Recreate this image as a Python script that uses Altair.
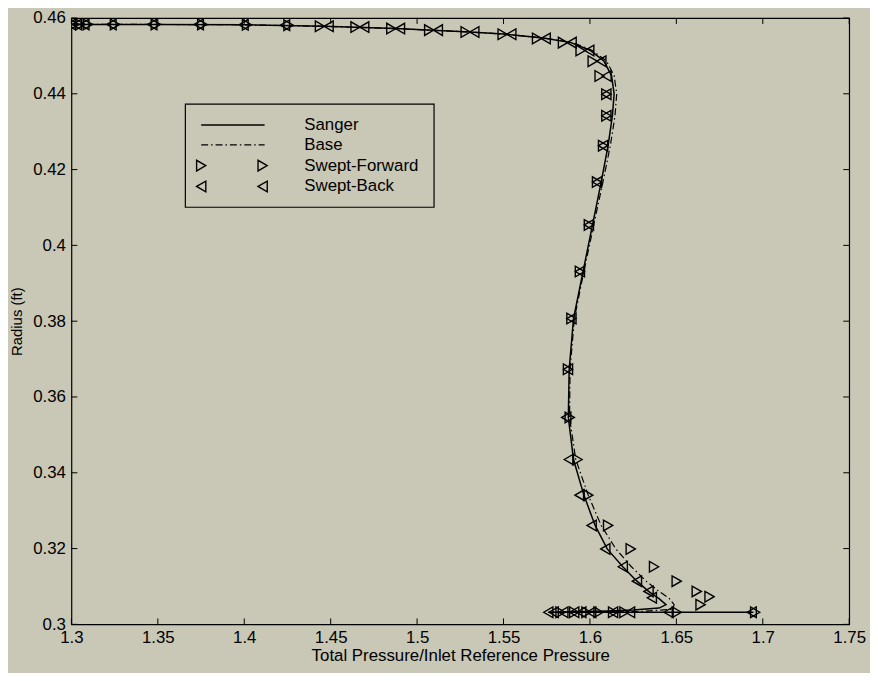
import altair as alt
import pandas as pd

# ---------------- data ----------------
x_ticks = [1.3, 1.35, 1.4, 1.45, 1.5, 1.55, 1.6, 1.65, 1.7, 1.75]
y_ticks = [0.3, 0.32, 0.34, 0.36, 0.38, 0.4, 0.42, 0.44, 0.46]

sanger_x = [1.3007, 1.3478, 1.4006, 1.4463, 1.4876, 1.5306, 1.5520, 1.5730, 1.5890, 1.6000,
            1.6080, 1.6125, 1.6140, 1.6130, 1.6105, 1.6065, 1.6015, 1.5960, 1.5905, 1.5880,
            1.5875, 1.5905, 1.5965, 1.6030, 1.6100, 1.6190, 1.6272, 1.6339, 1.6400, 1.6440,
            1.6400, 1.6250, 1.6100, 1.5900, 1.5760, 1.6946]
sanger_y = [0.4583, 0.4583, 0.4582, 0.4578, 0.4572, 0.4563, 0.4557, 0.4547, 0.4535, 0.4515,
            0.4487, 0.4448, 0.4400, 0.4342, 0.4263, 0.4167, 0.4054, 0.3931, 0.3807, 0.3673,
            0.3546, 0.3435, 0.3341, 0.3261, 0.3199, 0.3152, 0.3114, 0.3087, 0.3068, 0.3052,
            0.3043, 0.3038, 0.3035, 0.3033, 0.3032, 0.3032]

base_x = [1.3007, 1.3478, 1.4006, 1.4463, 1.4876, 1.5306, 1.5520, 1.5735, 1.5900, 1.6012,
          1.6095, 1.6140, 1.6155, 1.6145, 1.6118, 1.6075, 1.6022, 1.5965, 1.5910, 1.5885,
          1.5882, 1.5918, 1.5990, 1.6065, 1.6150, 1.6240, 1.6325, 1.6400, 1.6460, 1.6487,
          1.6480, 1.6300, 1.6000, 1.5760]
base_y = [0.4583, 0.4583, 0.4582, 0.4578, 0.4572, 0.4563, 0.4557, 0.4547, 0.4535, 0.4515,
          0.4487, 0.4448, 0.4400, 0.4342, 0.4263, 0.4167, 0.4054, 0.3931, 0.3807, 0.3673,
          0.3546, 0.3435, 0.3341, 0.3261, 0.3199, 0.3152, 0.3114, 0.3087, 0.3068, 0.3052,
          0.3040, 0.3034, 0.3032, 0.3032]

fwd_x = [1.3017, 1.3052, 1.3095, 1.3252, 1.3488, 1.3757, 1.4016, 1.4256,
         1.4438, 1.4644, 1.4851, 1.5070, 1.5281, 1.5495, 1.5694, 1.5844, 1.5946, 1.6016, 1.6056,
         1.6095, 1.6095, 1.6076, 1.6041, 1.5994, 1.5942, 1.5893, 1.5873, 1.5883,
         1.5928, 1.5990,
         1.6105, 1.6236, 1.6371, 1.6502, 1.6618, 1.6692, 1.6640,
         1.5830, 1.5909, 1.5980, 1.6050, 1.6134, 1.6200, 1.6503, 1.6956]
fwd_y = [0.4583, 0.4583, 0.4583, 0.4583, 0.4583, 0.4583, 0.4582, 0.4581,
         0.4578, 0.4576, 0.4572, 0.4568, 0.4563, 0.4557, 0.4546, 0.4535, 0.4514, 0.4486, 0.4447,
         0.4399, 0.4342, 0.4263, 0.4167, 0.4054, 0.3931, 0.3807, 0.3673, 0.3546,
         0.3435, 0.3341,
         0.3261, 0.3199, 0.3152, 0.3114, 0.3087, 0.3073, 0.3052,
         0.3032, 0.3032, 0.3032, 0.3032, 0.3032, 0.3032, 0.3032, 0.3032]

back_x = [1.2997, 1.3032, 1.3075, 1.3232, 1.3468, 1.3737, 1.3996, 1.4236,
          1.4488, 1.4694, 1.4901, 1.5120, 1.5331, 1.5545, 1.5744, 1.5894, 1.5996, 1.6066, 1.6096,
          1.6095, 1.6095, 1.6076, 1.6041, 1.5994, 1.5942, 1.5893, 1.5873, 1.5863,
          1.5878, 1.5940,
          1.6010, 1.6089, 1.6190, 1.6272, 1.6339, 1.6358,
          1.5759, 1.5790, 1.5846, 1.5909, 1.5950, 1.6007, 1.6134, 1.6232, 1.6455, 1.6936]
back_y = [0.4583, 0.4583, 0.4583, 0.4583, 0.4583, 0.4583, 0.4582, 0.4581,
          0.4578, 0.4576, 0.4572, 0.4568, 0.4563, 0.4557, 0.4546, 0.4535, 0.4514, 0.4486, 0.4447,
          0.4399, 0.4342, 0.4263, 0.4167, 0.4054, 0.3931, 0.3807, 0.3673, 0.3546,
          0.3435, 0.3341,
          0.3261, 0.3199, 0.3152, 0.3114, 0.3087, 0.3070,
          0.3032, 0.3032, 0.3032, 0.3032, 0.3032, 0.3032, 0.3032, 0.3032, 0.3032, 0.3032]

legend_labels = ["Sanger", "Base", "Swept-Forward", "Swept-Back"]

# ---------------- layout / style ----------------
W, H = 785, 612
BG = "#c9c7b5"
FONT = "Liberation Sans"
TICK = 6
MSIZE = 115

xscale = alt.Scale(domain=[1.3, 1.75], nice=False, zero=False)
yscale = alt.Scale(domain=[0.3, 0.46], nice=False, zero=False)
xaxis = alt.Axis(values=x_ticks, format="~g", ticks=False, domain=False, grid=False,
                 labelFont=FONT, labelFontSize=17, labelColor="black", labelPadding=5,
                 title="Total Pressure/Inlet Reference Pressure", titleFont=FONT,
                 titleFontSize=17, titleFontWeight="normal", titleColor="black", titlePadding=2,
                 labelFlush=False)
yaxis = alt.Axis(values=y_ticks, format="~g", ticks=False, domain=False, grid=False,
                 labelFont=FONT, labelFontSize=17, labelColor="black", labelPadding=6,
                 title="Radius (ft)", titleFont=FONT, titleFontSize=15,
                 titleFontWeight="normal", titleColor="black", titlePadding=8,
                 labelFlush=False)

X = alt.X("x:Q", scale=xscale, axis=xaxis)
Y = alt.Y("y:Q", scale=yscale, axis=yaxis)

sanger = pd.DataFrame({"x": sanger_x, "y": sanger_y, "o": range(len(sanger_x))})
base = pd.DataFrame({"x": base_x, "y": base_y, "o": range(len(base_x))})
fwd = pd.DataFrame({"x": fwd_x, "y": fwd_y})
back = pd.DataFrame({"x": back_x, "y": back_y})
xt = pd.DataFrame({"x": x_ticks})
yt = pd.DataFrame({"y": y_ticks})

layers = []
layers.append(alt.Chart(sanger).mark_line(color="black", strokeWidth=1.5)
              .encode(x=X, y=Y, order="o:Q"))
layers.append(alt.Chart(base).mark_line(color="black", strokeWidth=1.2, strokeDash=[7, 3, 1.5, 3])
              .encode(x=X, y=Y, order="o:Q"))
layers.append(alt.Chart(fwd).mark_point(shape="triangle-right", filled=False, color="black",
                                        size=MSIZE, strokeWidth=1.4, opacity=1, clip=True)
              .encode(x=X, y=Y))
layers.append(alt.Chart(back).mark_point(shape="triangle-left", filled=False, color="black",
                                         size=MSIZE, strokeWidth=1.4, opacity=1, clip=True)
              .encode(x=X, y=Y))

# inward ticks on all four sides
layers.append(alt.Chart(xt).mark_rule(color="black", strokeWidth=1)
              .encode(x=X, y=alt.value(0), y2=alt.value(TICK)))
layers.append(alt.Chart(xt).mark_rule(color="black", strokeWidth=1)
              .encode(x=X, y=alt.value(H), y2=alt.value(H - TICK)))
layers.append(alt.Chart(yt).mark_rule(color="black", strokeWidth=1)
              .encode(y=Y, x=alt.value(0), x2=alt.value(TICK)))
layers.append(alt.Chart(yt).mark_rule(color="black", strokeWidth=1)
              .encode(y=Y, x=alt.value(W), x2=alt.value(W - TICK)))

# legend box (placed in pixel space inside the plot)
dummy = alt.Data(values=[{}])
LX0, LX1, LY0, LY1 = 115, 366, 87, 191
rows_y = [108, 128, 149, 170]
layers.append(alt.Chart(dummy).mark_rect(fill=BG, stroke="black", strokeWidth=1.2)
              .encode(x=alt.value(LX0), x2=alt.value(LX1), y=alt.value(LY0), y2=alt.value(LY1)))
layers.append(alt.Chart(dummy).mark_rule(color="black", strokeWidth=1.5)
              .encode(x=alt.value(131), x2=alt.value(195), y=alt.value(rows_y[0])))
layers.append(alt.Chart(dummy).mark_rule(color="black", strokeWidth=1.2, strokeDash=[7, 3, 1.5, 3])
              .encode(x=alt.value(131), x2=alt.value(195), y=alt.value(rows_y[1])))
for px in (131, 193):
    layers.append(alt.Chart(dummy).mark_point(shape="triangle-right", filled=False, color="black",
                                              size=MSIZE, strokeWidth=1.4, opacity=1)
                  .encode(x=alt.value(px), y=alt.value(rows_y[2])))
    layers.append(alt.Chart(dummy).mark_point(shape="triangle-left", filled=False, color="black",
                                              size=MSIZE, strokeWidth=1.4, opacity=1)
                  .encode(x=alt.value(px), y=alt.value(rows_y[3])))
for lab, ry in zip(legend_labels, rows_y):
    layers.append(alt.Chart(dummy).mark_text(align="left", baseline="middle", font=FONT,
                                             fontSize=17, color="black")
                  .encode(x=alt.value(235), y=alt.value(ry), text=alt.value(lab)))

chart = (alt.layer(*layers)
         .properties(width=W, height=H, background=BG,
                     padding={"left": 64, "top": 7, "right": 21, "bottom": 46},
                     autosize=alt.AutoSizeParams(type="none"))
         .configure_view(stroke="black", strokeWidth=1.2))

chart.save("out.html", embed_options={"renderer": "svg", "actions": False})
